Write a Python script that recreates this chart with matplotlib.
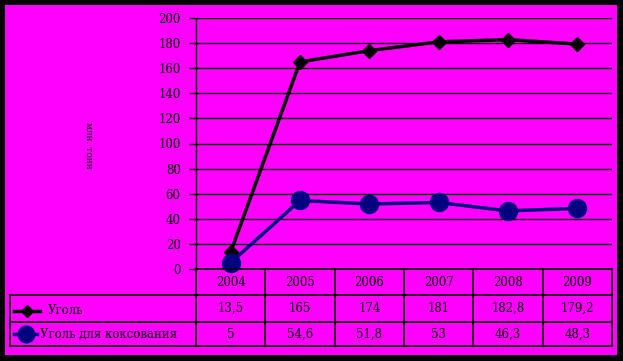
import numpy as np
import matplotlib.pyplot as plt
from matplotlib.transforms import blended_transform_factory
from matplotlib.lines import Line2D
from matplotlib.patches import Rectangle

years = ['2004', '2005', '2006', '2007', '2008', '2009']
coal = [13.5, 165, 174, 181, 182.8, 179.2]
coking = [5, 54.6, 51.8, 53, 46.3, 48.3]
coal_lbl = ['13,5', '165', '174', '181', '182,8', '179,2']
coking_lbl = ['5', '54,6', '51,8', '53', '46,3', '48,3']
names = ['Уголь', 'Уголь для коксования']
yticks = [0, 20, 40, 60, 80, 100, 120, 140, 160, 180, 200]

W, H = 623, 361
MAG = '#FF00FF'
NAVY = '#000080'
FS = 8.5
plt.rcParams['font.family'] = ['DejaVu Serif']

fig = plt.figure(figsize=(W / 100, H / 100), dpi=100)
fig.patch.set_facecolor('black')
bg = Rectangle((5 / W, 1 - 355 / H), 612 / W, 350 / H, transform=fig.transFigure,
               facecolor=MAG, edgecolor='none', zorder=-5)
fig.add_artist(bg)

ax = fig.add_axes([196 / W, 1 - 269 / H, (612 - 196) / W, (269 - 18) / H])
ax.set_facecolor('none')
x = np.arange(len(years))
ax.set_xlim(-0.5, len(years) - 0.5)
ax.set_ylim(0, 200)
ax.set_yticks(yticks)
ax.tick_params(axis='y', length=5, width=1, labelsize=FS, pad=6)
ax.set_xticks([])
for s in ['top', 'right', 'bottom']:
    ax.spines[s].set_visible(False)
ax.spines['left'].set_linewidth(1)
ax.grid(axis='y', color='black', linewidth=1)
ax.set_axisbelow(True)

ax.plot(x, coal, color='black', linewidth=2.5, marker='D', markersize=7.5,
        clip_on=False, zorder=3)
ax.plot(x, coking, color=NAVY, linewidth=2.5, marker='o', markersize=13,
        clip_on=False, zorder=3)

fig.text(88 / W, 1 - 145 / H, 'млн. тонн', rotation=270, fontsize=6.5,
         ha='center', va='center')

# table under the plot
tr = blended_transform_factory(ax.transData, fig.transFigure)
fy = lambda p: 1 - p / H
fx = lambda p: p / W
top, r1, r2, bot = 269, 295, 322, 346
lw = 1.2
fig.add_artist(Line2D([-0.5, 5.5], [fy(top)] * 2, transform=tr, color='black', lw=lw))
for yy in (r1, r2, bot):
    fig.add_artist(Line2D([fx(10), fx(612)], [fy(yy)] * 2, color='black', lw=lw))
for b in np.arange(-0.5, 6.0, 1.0):
    fig.add_artist(Line2D([b, b], [fy(top), fy(bot)], transform=tr, color='black', lw=lw))
fig.add_artist(Line2D([fx(10), fx(10)], [fy(r1), fy(bot)], color='black', lw=lw))

for i, yr in enumerate(years):
    fig.text(i, fy((top + r1) / 2), yr, transform=tr, ha='center', va='center', fontsize=FS)
    fig.text(i, fy((r1 + r2) / 2), coal_lbl[i], transform=tr, ha='center', va='center', fontsize=FS)
    fig.text(i, fy((r2 + bot) / 2), coking_lbl[i], transform=tr, ha='center', va='center', fontsize=FS)

# legend keys
fig.add_artist(Line2D([fx(14), fx(40)], [fy(311)] * 2, color='black', lw=2.5))
fig.add_artist(Line2D([fx(27)], [fy(311)], color='black', marker='D', markersize=6))
fig.text(fx(48), fy(311), names[0], ha='left', va='center', fontsize=FS)
fig.add_artist(Line2D([fx(14), fx(37)], [fy(334)] * 2, color=NAVY, lw=2.5))
fig.add_artist(Line2D([fx(25.5)], [fy(334)], color=NAVY, marker='o', markersize=12))
fig.text(fx(40), fy(334), names[1], ha='left', va='center', fontsize=FS)

fig.savefig('out.png', dpi=100, facecolor=fig.get_facecolor())
